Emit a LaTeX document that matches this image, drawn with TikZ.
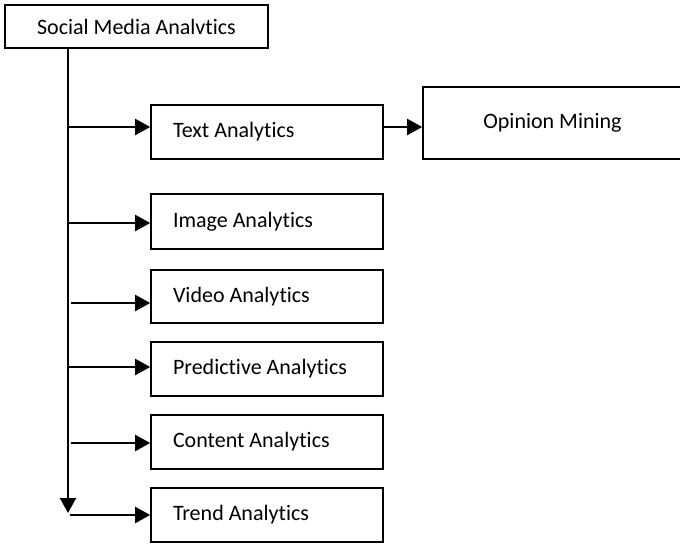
\documentclass[tikz,border=0pt]{standalone}
\usepackage{fontspec}
\setmainfont{Carlito}[Ligatures=NoCommon]
\usetikzlibrary{arrows.meta}
\newcommand{\leftlabel}[1]{\makebox[188pt][l]{#1}}
\tikzset{
  box/.style={draw=black, line width=1.6pt, rectangle, inner sep=0pt,
    font=\fontsize{22}{24}\selectfont, text=black},
  leaf/.style={box, minimum width=232pt},
  link/.style={draw=black, line width=2.2pt,
    -{Triangle[length=15pt,width=16pt]}},
  trunkline/.style={draw=black, line width=2.2pt,
    -{Triangle[length=15pt,width=16pt]}}
}
\begin{document}
\begin{tikzpicture}[x=1pt,y=-1pt]
\useasboundingbox (0,0) rectangle (680,545);

% root and second-level boxes
\node[box, minimum width=263pt, minimum height=43pt] (root) at (136.5,26.5) {Social Media Analvtics};
\node[leaf, minimum height=54pt] (text)  at (267,132)   {\leftlabel{Text Analytics}};
\node[box, minimum width=259pt, minimum height=72pt] (opinion) at (552.5,123) {\raisebox{4pt}{Opinion Mining}};
\node[leaf, minimum height=55pt] (image) at (267,221.5) {\leftlabel{Image Analytics}};
\node[leaf, minimum height=53pt] (video) at (267,296.5) {\leftlabel{Video Analytics}};
\node[leaf, minimum height=54pt] (pred)  at (267,369)   {\leftlabel{Predictive Analytics}};
\node[leaf, minimum height=54pt] (cont)  at (267,442)   {\leftlabel{Content Analytics}};
\node[leaf, minimum height=54pt] (trend) at (267,515)   {\leftlabel{Trend Analytics}};

% vertical trunk
\coordinate (tx) at (68,0);
\coordinate (tend) at (68,513);
\draw[trunkline] (root.south -| tx) -- (tend);

% branch start points on the trunk
\coordinate (bText)  at (68,127);
\coordinate (bImage) at (68,223);
\coordinate (bVideo) at (71,303);
\coordinate (bPred)  at (68,367);
\coordinate (bCont)  at (71,443);
\coordinate (bTrend) at (70,515);

\draw[link] (bText)  -- (bText  -| text.west);
\draw[link] (bImage) -- (bImage -| image.west);
\draw[link] (bVideo) -- (bVideo -| video.west);
\draw[link] (bPred)  -- (bPred  -| pred.west);
\draw[link] (bCont)  -- (bCont  -| cont.west);
\draw[link] (bTrend) -- (bTrend -| trend.west);

% text analytics to opinion mining
\coordinate (oRow) at (0,127);
\draw[link] (oRow -| text.east) -- (oRow -| opinion.west);
\end{tikzpicture}
\end{document}
